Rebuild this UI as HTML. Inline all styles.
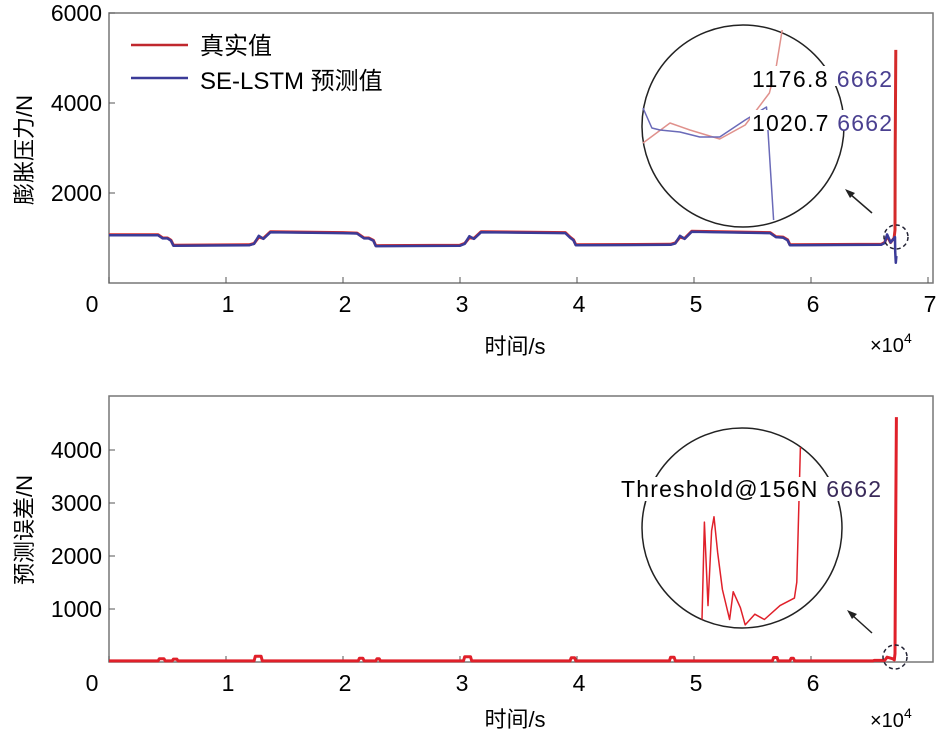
<!DOCTYPE html>
<html><head><meta charset="utf-8"><style>
body{margin:0;background:#fff;width:939px;height:734px;overflow:hidden}
svg{display:block}
text{font-family:"Liberation Sans","Noto Sans CJK SC",sans-serif;fill:#000}
</style></head><body>
<svg id="c" width="939" height="734"></svg>
<script>
// ---- data ----
const xTicksTop=[0,1,2,3,4,5,6,7];
const xTicksBot=[0,1,2,3,4,5,6];
const yTicksTop=[2000,4000,6000];
const yTicksBot=[1000,2000,3000,4000];
// true pressure (x in 1e4, N)
const trueX=[0,0.42,0.46,0.5,0.53,0.55,1.2,1.24,1.28,1.32,1.38,2.0,2.12,2.18,2.22,2.26,2.28,3.0,3.04,3.08,3.12,3.18,3.9,3.94,3.97,3.99,4.8,4.84,4.88,4.92,4.98,5.65,5.7,5.76,5.8,5.82,6.6,6.63,6.65,6.68,6.71,6.718,6.72,6.725];
const trueY=[1070,1070,1000,1000,950,840,850,880,1020,990,1140,1120,1110,1000,1000,950,830,840,880,1010,990,1140,1120,1020,960,850,860,890,1020,990,1150,1120,1030,1020,960,850,860,900,1050,900,1000,1176.8,3000,5180];
const predX=[0,0.42,0.46,0.5,0.53,0.55,1.2,1.24,1.28,1.32,1.38,2.0,2.12,2.18,2.22,2.26,2.28,3.0,3.04,3.08,3.12,3.18,3.9,3.94,3.97,3.99,4.8,4.84,4.88,4.92,4.98,5.65,5.7,5.76,5.8,5.82,6.6,6.63,6.65,6.68,6.718,6.72,6.725,6.73];
const predY=[1060,1060,990,990,940,830,840,870,1050,980,1130,1110,1100,990,990,940,820,830,870,1040,980,1130,1110,1010,950,840,850,880,1050,980,1140,1110,1020,1010,950,840,850,890,1080,900,1020.7,700,450,600];
// prediction error
const errX=[0,0.42,0.43,0.47,0.48,0.54,0.55,0.58,0.59,1.24,1.25,1.3,1.31,2.13,2.14,2.17,2.18,2.28,2.29,2.31,2.32,3.03,3.04,3.09,3.1,3.94,3.95,3.98,3.99,4.79,4.8,4.83,4.84,5.67,5.68,5.71,5.72,5.82,5.83,5.85,5.86,6.53,6.54,6.63,6.65,6.7,6.712,6.718,6.722,6.73];
const errY=[20,20,60,60,20,20,55,55,20,20,110,110,20,20,70,70,20,20,60,60,20,20,100,100,20,20,80,80,20,20,90,90,20,20,85,85,20,20,70,70,20,20,30,30,90,60,40,156,2000,4620];
// zoom insets (normalized 0..1 within inset box)
const insTrueX=[0,0.19,0.33,0.54,0.72,0.89,0.94,0.98];
const insTrueY=[0.53,0.33,0.4,0.49,0.35,0.03,-0.25,-0.6];
const insPredX=[0,0.063,0.12,0.26,0.4,0.54,0.72,0.87,0.92];
const insPredY=[0.18,0.38,0.4,0.42,0.47,0.47,0.3,0.17,1.3];
const insErrX=[0,0.02,0.05,0.08,0.1,0.13,0.17,0.23,0.26,0.32,0.36,0.44,0.52,0.65,0.77,0.79,0.82];
const insErrY=[0.93,0.02,0.8,0.1,-0.03,0.3,0.65,0.93,0.67,0.82,0.98,0.88,0.93,0.8,0.73,0.58,-0.68];

const NS='http://www.w3.org/2000/svg';
const svg=document.getElementById('c');
function el(t,a,p){const e=document.createElementNS(NS,t);for(const k in a)e.setAttribute(k,a[k]);(p||svg).appendChild(e);return e;}
const X0=109,XU=117;
const xs=v=>X0+v*XU;
const ysTop=v=>283-v*(270/6000);
const ysBot=v=>662-v*(53/1000);

function axes(top,bot,ticksX,ticksY,ys,pre){
  const box=el('rect',{x:X0,y:top,width:824,height:bot-top,fill:'none',stroke:'#777','stroke-width':1.5});
  
  
  ticksX.forEach(t=>{
    el('line',{x1:xs(t),x2:xs(t),y1:bot,y2:bot-6,stroke:'#555'});
    const tx=el('text',{x:t===0?92:xs(t)+2,y:bot+29,'font-size':23,'text-anchor':'middle'});tx.textContent=t;
    
    
  });
  ticksY.forEach(t=>{
    el('line',{x1:X0,x2:X0+6,y1:ys(t),y2:ys(t),stroke:'#555'});
    const tx=el('text',{x:102,y:ys(t)+8,'font-size':23,'text-anchor':'end'});tx.textContent=t;
    
    
  });
}
axes(13,283,xTicksTop,yTicksTop,ysTop,'top');
axes(396,662,xTicksBot,yTicksBot,ysBot,'bottom');

function line(xa,ya,fx,fy,col,w,name){
  const d=xa.map((x,i)=>(i?'L':'M')+fx(x).toFixed(1)+','+fy(ya[i]).toFixed(1)).join('');
  const p=el('path',{d:d,fill:'none',stroke:col,'stroke-width':w,'stroke-linejoin':'round'});
  
  
  return p;
}
function txt(x,y,s,size,name,extra){const t=el('text',Object.assign({x:x,y:y,'font-size':size},extra||{}));t.textContent=s;
  return t;}

// top inset
const c1=el('circle',{cx:743,cy:126,r:101,fill:'#fff',stroke:'#222','stroke-width':1.5});

const ix1=v=>643+v*142, iy1=v=>90+v*100;
line(insTrueX,insTrueY,ix1,iy1,'#e0918c',1.5,'inset-true-line');
line(insPredX,insPredY,ix1,iy1,'#6a6ab8',1.5,'inset-prediction-line');
el('rect',{x:750,y:66,width:142,height:20,fill:'#fff'});
el('rect',{x:750,y:110,width:142,height:20,fill:'#fff'});
const a1=txt(752,87,'1176.8 ',23,'annotation-true',{textLength:140,lengthAdjust:'spacing'});const t1=el('tspan',{fill:'#4a4090'},a1);t1.textContent='6662';
const a2=txt(752,131,'1020.7 ',23,'annotation-pred',{textLength:140,lengthAdjust:'spacing'});const t2=el('tspan',{fill:'#4a4090'},a2);t2.textContent='6662';
el('line',{x1:872,y1:213,x2:850,y2:194,stroke:'#222','stroke-width':1.5});
el('path',{d:'M845,189 L855,193 L850,198 Z',fill:'#222'});

// bottom inset
const c2=el('circle',{cx:742,cy:528,r:100,fill:'#fff',stroke:'#222','stroke-width':1.5});

const ix2=v=>702+v*120, iy2=v=>520+v*107;
line(insErrX,insErrY,ix2,iy2,'#e0202a',1.5,'inset-error-line');
el('rect',{x:618,y:477,width:268,height:24,fill:'#fff'});
const a3=txt(621,497,'Threshold@156N ',23,'annotation-threshold',{textLength:260,lengthAdjust:'spacing'});const t3=el('tspan',{fill:'#3a2a5a'},a3);t3.textContent='6662';
el('line',{x1:872,y1:633,x2:852,y2:615,stroke:'#222','stroke-width':1.5});
el('path',{d:'M847,610 L857,614 L852,619 Z',fill:'#222'});

// main series
line(trueX,trueY,xs,ysTop,'#d42a2a',3,'true-value-line');
line(predX,predY,xs,ysTop,'#3b3b98',2.5,'se-lstm-prediction-line');
line(errX,errY,xs,ysBot,'#e0202a',3,'prediction-error-line');

const d1=el('circle',{cx:896,cy:237,r:12,fill:'none',stroke:'#223','stroke-width':1.5,'stroke-dasharray':'4,3'});

const d2=el('circle',{cx:895,cy:657,r:12,fill:'none',stroke:'#223','stroke-width':1.5,'stroke-dasharray':'4,3'});


// labels
txt(515,354,'时间/s',22,'top-x-axis-title',{'text-anchor':'middle'});
txt(515,727,'时间/s',22,'bottom-x-axis-title',{'text-anchor':'middle'});
const ex1=txt(870,352,'×10',20,'top-x-exponent');const s1=el('tspan',{dy:-9,'font-size':14},ex1);s1.textContent='4';
const ex2=txt(870,727,'×10',20,'bottom-x-exponent');const s2=el('tspan',{dy:-9,'font-size':14},ex2);s2.textContent='4';
txt(32,150,'膨胀压力/N',22,'top-y-axis-title',{'text-anchor':'middle',transform:'rotate(-90 32 150)'});
txt(32,530,'预测误差/N',22,'bottom-y-axis-title',{'text-anchor':'middle',transform:'rotate(-90 32 530)'});

// legend
const lg=el('g',{});
el('line',{x1:131,x2:188,y1:45,y2:45,stroke:'#c0282e','stroke-width':2.5},lg);
el('line',{x1:131,x2:188,y1:78,y2:78,stroke:'#3b3b98','stroke-width':2.5},lg);
txt(200,54,'真实值',24,'legend-entry-true');
txt(200,89,'SE-LSTM 预测值',24,'legend-entry-prediction');
</script>
</body></html>
